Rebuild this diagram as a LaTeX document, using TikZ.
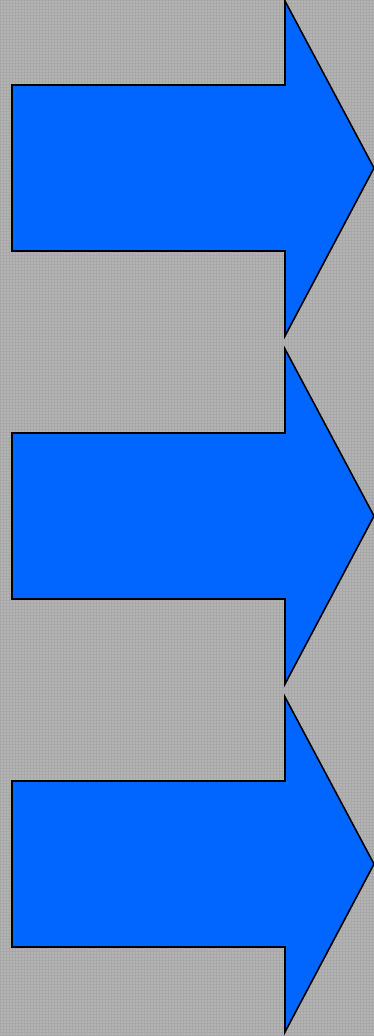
\documentclass[tikz,border=0pt]{standalone}
\usetikzlibrary{calc}
\definecolor{PanelGray}{RGB}{180,180,180}
\definecolor{WeaveGray}{RGB}{160,160,160}
\definecolor{ArrowBlue}{RGB}{0,102,255}
\tikzset{
  panel/.style={fill=PanelGray},
  weave/.style={draw=WeaveGray,line width=0.3pt,opacity=0.6},
  bigarrow/.style={fill=ArrowBlue,draw=black,line width=1.6pt,line join=miter}
}
\begin{document}
\begin{tikzpicture}[x=1pt,y=-1pt]
  \useasboundingbox (0,0) rectangle (374,1036);
  \fill[panel] (0,0) rectangle (374,1036);
  \draw[weave,step=3pt] (0,0) grid (374,1036);
  \begin{scope}
    \clip (0,0) rectangle (374,1036);
    \foreach \dy [count=\i] in {0,348,696} {
      \coordinate (tip\i) at (374,168+\dy);
      \draw[bigarrow] (12,85+\dy) -- (285,85+\dy) -- (285,1+\dy)
        -- (tip\i) -- (285,336+\dy) -- (285,251+\dy)
        -- (12,251+\dy) -- cycle;
    }
  \end{scope}
\end{tikzpicture}
\end{document}
